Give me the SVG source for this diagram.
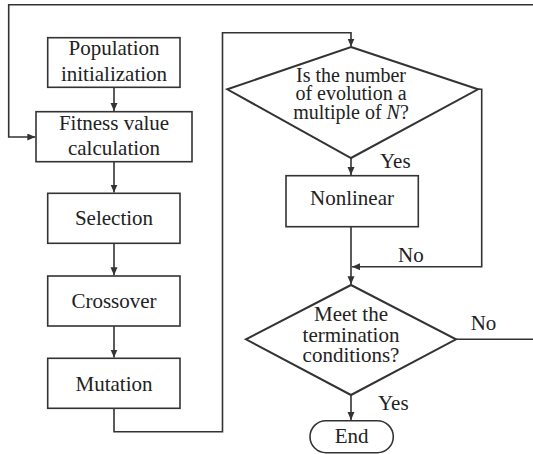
<svg xmlns="http://www.w3.org/2000/svg" width="533" height="454" viewBox="0 0 533 454">
<style>
.box{fill:#fff;stroke:#333;stroke-width:1.6}
.dia{fill:#fff;stroke:#333;stroke-width:2}
.t{font-family:'Liberation Serif','Times New Roman','DejaVu Serif',serif;font-size:21px;fill:#222;text-anchor:middle}
.d{font-size:20px}
.lbl{font-family:'Liberation Serif','Times New Roman','DejaVu Serif',serif;font-size:21px;fill:#222}
.c{fill:none;stroke:#333;stroke-width:1.6}
</style>
<defs>
<marker id="arr" markerUnits="userSpaceOnUse" markerWidth="9" markerHeight="8" refX="8" refY="3.5" orient="auto">
<path d="M0,0 L8,3.5 L0,7 z" fill="#333"/>
</marker>
</defs>
<rect width="533" height="454" fill="#fff"/>
<g id="connectors">
<path class="c" d="M114,87.3 V111" marker-end="url(#arr)"/>
<path class="c" d="M114,161.7 V192.6" marker-end="url(#arr)"/>
<path class="c" d="M114,243.3 V275.3" marker-end="url(#arr)"/>
<path class="c" d="M114,326 V357.6" marker-end="url(#arr)"/>
<path class="c" d="M114,408.3 V431.7 H222.5 V32.7 H351 V46.5" marker-end="url(#arr)"/>
<path class="c" d="M351,158 V175" marker-end="url(#arr)"/>
<path class="c" d="M351,226.7 V284.3" marker-end="url(#arr)"/>
<path class="c" d="M478,89.3 H481.7 V266.7 H352" marker-end="url(#arr)"/>
<path class="c" d="M351,395 V420" marker-end="url(#arr)"/>
<path class="c" d="M456,339.3 H536 V4.7 H8.7 V137 H35.3" marker-end="url(#arr)"/>
</g>
<g id="population">
<rect class="box" x="47.7" y="37.7" width="132.3" height="49.6"/>
<text class="t" x="114" y="55">Population</text>
<text class="t" x="114" y="80.7">initialization</text>
</g>
<g id="fitness">
<rect class="box" x="36" y="111.7" width="156" height="50"/>
<text class="t" x="114" y="130">Fitness value</text>
<text class="t" x="114" y="155">calculation</text>
</g>
<g id="selection">
<rect class="box" x="47.7" y="193.3" width="132.3" height="50"/>
<text class="t" x="114" y="225">Selection</text>
</g>
<g id="crossover">
<rect class="box" x="47.7" y="276" width="132.3" height="50"/>
<text class="t" x="114" y="308.3">Crossover</text>
</g>
<g id="mutation">
<rect class="box" x="47.7" y="358.3" width="132.3" height="50"/>
<text class="t" x="114" y="390.7">Mutation</text>
</g>
<g id="decision-multiple">
<polygon class="dia" points="351,47 478,89.3 351,158 227.3,89.3"/>
<text class="t d" x="351" y="81.5">Is the number</text>
<text class="t d" x="351" y="100.3">of evolution a</text>
<text class="t d" x="351" y="119">multiple of <tspan font-style="italic">N</tspan>?</text>
<text class="lbl" x="380" y="168">Yes</text>
</g>
<g id="nonlinear">
<rect class="box" x="286" y="175.7" width="132.3" height="51"/>
<text class="t" x="352" y="205">Nonlinear</text>
</g>
<text class="lbl" x="398" y="262">No</text>
<g id="decision-termination">
<polygon class="dia" points="351,285 456,339.3 351,395 246,339.3"/>
<text class="t" x="351" y="320.7">Meet the</text>
<text class="t" x="351" y="341.7">termination</text>
<text class="t" x="351" y="361.7">conditions?</text>
<text class="lbl" x="470.7" y="330">No</text>
<text class="lbl" x="378" y="410">Yes</text>
</g>
<g id="end">
<rect class="box" x="310" y="420.7" width="83.3" height="32" rx="16" ry="16"/>
<text class="t" x="351.7" y="442.7">End</text>
</g>
</svg>
